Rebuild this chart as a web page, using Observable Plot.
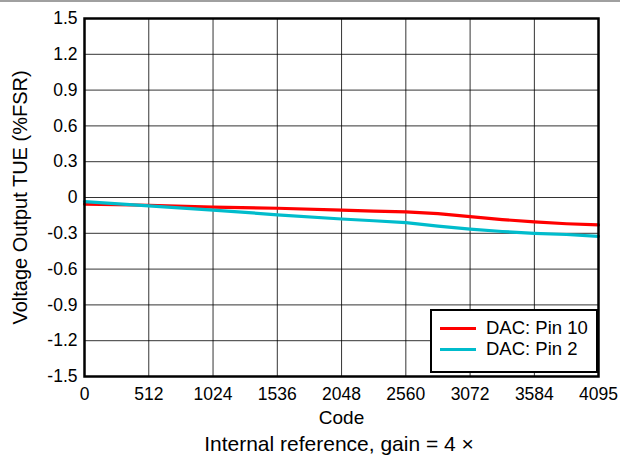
<!DOCTYPE html>
<html><head><meta charset="utf-8">
<script src="https://cdn.jsdelivr.net/npm/d3@7"></script>
<script src="https://cdn.jsdelivr.net/npm/@observablehq/plot@0.6"></script>
<style>
body{margin:0;background:#fff;font-family:"Liberation Sans",Arial,sans-serif;}
#wrap{position:relative;width:620px;height:457px;overflow:hidden;}
#topline{position:absolute;left:0;top:0;width:620px;height:2px;background:#a0a0a0;}
#chart{position:absolute;left:0;top:0;}
#chart svg text{font-family:"Liberation Sans",Arial,sans-serif !important;fill:#000;}
#chart svg g[aria-label="x-axis tick label"] text, #chart svg g[aria-label="y-axis tick label"] text{font-size:17.5px !important;}
#chart svg g[aria-label="x-axis label"] text{font-size:19px !important;}
#chart svg g[aria-label="y-axis label"] text{font-size:20px !important;}
#caption{position:absolute;left:0;width:678px;top:432px;text-align:center;font-size:21px;color:#000;white-space:nowrap;}
#legend{position:absolute;left:430px;top:309px;width:164px;height:60px;border:2.5px solid #000;background:#fff;font-size:18.5px;}
.item{position:absolute;left:8px;display:flex;align-items:center;}
.sw{width:36px;height:3px;margin-right:10px;}
</style></head>
<body><div id="wrap"><div id="chart"></div><div id="topline"></div><div id="legend"></div><div id="caption"></div></div>
<script>
const codes = [0, 512, 1024, 1536, 2048, 2304, 2560, 2816, 3072, 3328, 3584, 3840, 4095];
const pin10 = [-0.055, -0.065, -0.08, -0.09, -0.105, -0.115, -0.12, -0.135, -0.16, -0.185, -0.205, -0.22, -0.23];
const pin2 = [-0.035, -0.07, -0.105, -0.145, -0.18, -0.195, -0.21, -0.24, -0.265, -0.285, -0.3, -0.31, -0.325];
const xTicks = [0, 512, 1024, 1536, 2048, 2560, 3072, 3584, 4095];
const yTicks = [-1.5, -1.2, -0.9, -0.6, -0.3, 0, 0.3, 0.6, 0.9, 1.2, 1.5];
const seriesNames = ["DAC: Pin 10", "DAC: Pin 2"];
const seriesColors = ["#ff0000", "#00bccc"];
const caption = "Internal reference, gain = 4 ×";

const rows = [];
[pin10, pin2].forEach((vals, s) => vals.forEach((v, i) => rows.push({code: codes[i], v, series: seriesNames[s]})));

const fmtY = d => d === 0 ? "0" : d.toFixed(1);
const fmtX = d => String(d);
const chart = Plot.plot({
  width: 620, height: 430,
  marginLeft: 84, marginRight: 22, marginTop: 18, marginBottom: 54,
  style: {fontFamily: '"Liberation Sans", Arial, sans-serif', fontSize: "17.5px", color: "#000", background: "transparent"},
  x: {domain: [0, 4095]},
  y: {domain: [-1.5, 1.5]},
  color: {domain: seriesNames, range: seriesColors},
  marks: [
    Plot.gridX(xTicks, {stroke: "#000", strokeOpacity: 0.8, strokeWidth: 1}),
    Plot.gridY(yTicks, {stroke: "#000", strokeOpacity: 0.8, strokeWidth: 1}),
    Plot.line(rows, {x: "code", y: "v", stroke: "series", strokeWidth: 3.2, z: "series"}),
    Plot.frame({stroke: "#000", strokeWidth: 2.5}),
    Plot.axisX(xTicks, {tickSize: 0, tickPadding: 11, tickFormat: fmtX, label: "Code", labelAnchor: "center", labelArrow: "none", labelOffset: 47}),
    Plot.axisY(yTicks, {tickSize: 0, tickPadding: 7, tickFormat: fmtY, label: "Voltage Output TUE (%FSR)", labelAnchor: "center", labelArrow: "none", labelOffset: 72})
  ]
});
document.getElementById("chart").appendChild(chart);
document.getElementById("caption").textContent = caption;
const leg = document.getElementById("legend");
seriesNames.forEach((n, i) => {
  const d = document.createElement("div");
  d.className = "item";
  d.style.top = (6 + i * 21) + "px";
  d.innerHTML = `<span class="sw" style="background:${seriesColors[i]}"></span><span>${n}</span>`;
  leg.appendChild(d);
});
</script></body></html>
